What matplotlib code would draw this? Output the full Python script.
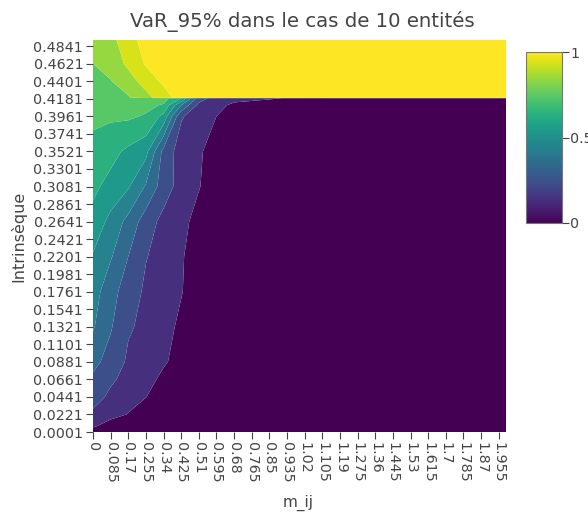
import matplotlib
matplotlib.use("Agg")
import matplotlib.pyplot as plt
import numpy as np
from matplotlib.colors import Normalize

# grid: contagion coefficient m_ij (columns) x intrinsic default prob (rows)
m_ij = [0, 0.085, 0.17, 0.255, 0.34, 0.425, 0.51, 0.595, 0.68, 0.85, 1.2, 1.99]
intrinseque = [0.0001, 0.008, 0.0221, 0.0441, 0.0661, 0.0881, 0.1321, 0.1761,
               0.2201, 0.2641, 0.3081, 0.3521, 0.3961, 0.4101, 0.4188, 0.4196,
               0.4401, 0.4621, 0.4919]

# VaR 95% (fraction of the 10 entities in default)
var95 = [
    [0.00, 0.00, 0.00, 0.00, 0.00, 0.00, 0.00, 0.00, 0.00, 0.00, 0.00, 0.00],
    [0.07, 0.00, 0.00, 0.00, 0.00, 0.00, 0.00, 0.00, 0.00, 0.00, 0.00, 0.00],
    [0.13, 0.09, 0.045, 0.00, 0.00, 0.00, 0.00, 0.00, 0.00, 0.00, 0.00, 0.00],
    [0.19, 0.13, 0.095, 0.052, 0.00, 0.00, 0.00, 0.00, 0.00, 0.00, 0.00, 0.00],
    [0.23, 0.165, 0.12, 0.08, 0.03, 0.00, 0.00, 0.00, 0.00, 0.00, 0.00, 0.00],
    [0.28, 0.21, 0.135, 0.10, 0.06, 0.02, 0.00, 0.00, 0.00, 0.00, 0.00, 0.00],
    [0.36, 0.26, 0.16, 0.13, 0.085, 0.03, 0.00, 0.00, 0.00, 0.00, 0.00, 0.00],
    [0.40, 0.28, 0.21, 0.13, 0.09, 0.055, 0.00, 0.00, 0.00, 0.00, 0.00, 0.00],
    [0.44, 0.36, 0.25, 0.155, 0.11, 0.06, 0.00, 0.00, 0.00, 0.00, 0.00, 0.00],
    [0.52, 0.42, 0.32, 0.20, 0.12, 0.075, 0.02, 0.00, 0.00, 0.00, 0.00, 0.00],
    [0.57, 0.52, 0.46, 0.34, 0.20, 0.11, 0.055, 0.00, 0.00, 0.00, 0.00, 0.00],
    [0.62, 0.58, 0.53, 0.48, 0.22, 0.10, 0.065, 0.00, 0.00, 0.00, 0.00, 0.00],
    [0.67, 0.665, 0.665, 0.64, 0.52, 0.16, 0.10, 0.05, 0.00, 0.00, 0.00, 0.00],
    [0.69, 0.69, 0.685, 0.675, 0.64, 0.35, 0.12, 0.08, 0.03, 0.00, 0.00, 0.00],
    [0.70, 0.70, 0.70, 0.70, 0.69, 0.55, 0.20, 0.10, 0.08, 0.06, 0.00, 0.00],
    [0.71, 0.72, 0.74, 0.82, 0.90, 1.00, 1.00, 1.00, 1.00, 1.00, 1.00, 1.00],
    [0.73, 0.745, 0.81, 0.89, 0.97, 1.00, 1.00, 1.00, 1.00, 1.00, 1.00, 1.00],
    [0.75, 0.79, 0.87, 0.96, 1.00, 1.00, 1.00, 1.00, 1.00, 1.00, 1.00, 1.00],
    [0.78, 0.82, 0.91, 0.99, 1.00, 1.00, 1.00, 1.00, 1.00, 1.00, 1.00, 1.00],
]

x_labels = ["0", "0.085", "0.17", "0.255", "0.34", "0.425", "0.51", "0.595",
            "0.68", "0.765", "0.85", "0.935", "1.02", "1.105", "1.19", "1.275",
            "1.36", "1.445", "1.53", "1.615", "1.7", "1.785", "1.87", "1.955"]
y_labels = ["0.0001", "0.0221", "0.0441", "0.0661", "0.0881", "0.1101",
            "0.1321", "0.1541", "0.1761", "0.1981", "0.2201", "0.2421",
            "0.2641", "0.2861", "0.3081", "0.3301", "0.3521", "0.3741",
            "0.3961", "0.4181", "0.4401", "0.4621", "0.4841"]

TXT = "#444444"
plt.rcParams['font.family'] = ['DejaVu Sans']

fig = plt.figure(figsize=(5.88, 5.16), dpi=100)
ax = fig.add_axes([93 / 588, 1 - 432 / 516, 413 / 588, 392 / 516])

# one band per 0.1 step, centred on the values 0, 0.1, ... 1
levels = np.arange(-0.05, 1.06, 0.1)
vir = matplotlib.colormaps['viridis']
band_colors = [vir(0.0)] + [vir(k / 10 + 0.04) for k in range(1, 10)] + [vir(1.0)]

X, Y = np.meshgrid(m_ij, intrinseque)
ax.contourf(X, Y, np.array(var95), levels=levels, colors=band_colors, antialiased=True)

ax.set_xlim(0, m_ij[-1])
ax.set_ylim(intrinseque[0], intrinseque[-1])
ax.set_xticks([float(s) for s in x_labels])
ax.set_xticklabels(x_labels, rotation=-90)
ax.set_yticks([float(s) for s in y_labels])
ax.set_yticklabels(y_labels)
ax.tick_params(direction='out', length=5, width=0.8, color=TXT,
               labelcolor=TXT, labelsize=10.3, pad=2)
for s in ax.spines.values():
    s.set_visible(False)

# colour scale on the right
cax = fig.add_axes([526 / 588, 1 - 223 / 516, 36 / 588, 171 / 516])
sm = plt.cm.ScalarMappable(norm=Normalize(0, 1), cmap='viridis')
cb = fig.colorbar(sm, cax=cax, ticks=[0, 0.5, 1])
cb.ax.set_yticklabels(["0", "0.5", "1"])
cb.ax.tick_params(direction='out', length=5, width=0.8, color=TXT,
                  labelcolor=TXT, labelsize=10.3, pad=1)
cb.outline.set_edgecolor("#777777")
cb.outline.set_linewidth(0.8)

fig.text(0.515, 0.959, "VaR_95% dans le cas de 10 entités", ha='center',
         va='center', fontsize=14.2, color=TXT)
fig.text(0.031, 0.541, "Intrinsèque", rotation=90, ha='center', va='center',
         fontsize=11.5, color=TXT)
fig.text(0.507, 0.025, "m_ij", ha='center', va='center', fontsize=11, color=TXT)

fig.savefig("out.png", dpi=100)
